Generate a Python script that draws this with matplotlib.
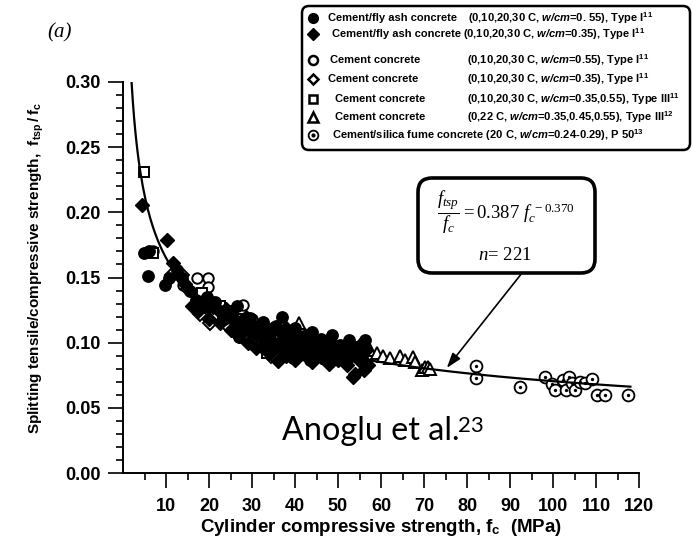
import numpy as np
import matplotlib
matplotlib.use('Agg')
import matplotlib.pyplot as plt
from matplotlib.patches import FancyBboxPatch
from matplotlib.lines import Line2D
from matplotlib.ticker import MultipleLocator, FixedLocator

plt.rcParams['font.family'] = 'Liberation Sans'
plt.rcParams['mathtext.fontset'] = 'custom'
plt.rcParams['mathtext.rm'] = 'Liberation Serif'
plt.rcParams['mathtext.it'] = 'Liberation Serif:style=italic'
plt.rcParams['mathtext.bf'] = 'Liberation Sans:weight=bold'
plt.rcParams['mathtext.sf'] = 'Liberation Sans:style=italic:weight=bold'

# ---------------- data (fc in MPa, ratio ftsp/fc) ----------------
fa55_pts = [(4.8,0.169),(6.0,0.170),(5.9,0.151),(9.8,0.144),(10.8,0.150),(12.5,0.156),(13.8,0.150),
            (15.5,0.140),(17.0,0.133),(18.5,0.127),(19.5,0.135),(21.5,0.131),(22.5,0.124),(23.5,0.118),
            (25.0,0.122),(26.5,0.128),(27.5,0.117),(28.5,0.110),(29.5,0.119),(30.5,0.113),(31.5,0.106),
            (32.5,0.116),(33.5,0.109),(34.5,0.101),(35.5,0.113),(36.5,0.097),(37.0,0.120),(38.0,0.106),
            (39.0,0.100),(40.0,0.111),(41.0,0.094),(42.0,0.105),(43.0,0.099),(44.0,0.108),(45.0,0.096),
            (46.0,0.103),(47.0,0.092),(48.0,0.100),(48.6,0.106),(49.5,0.095),(50.5,0.098),(51.5,0.091),
            (52.5,0.102),(53.5,0.093),(54.5,0.097),(55.5,0.090),(56.3,0.102),(39.5,0.088),(43.5,0.087),
            (33.0,0.095),(27.0,0.104),(37.5,0.092)]
fa35_pts = [(4.4,0.206),(10.2,0.179),(11.6,0.161),(13.0,0.152),(14.5,0.145),(16.0,0.128),(17.5,0.124),
            (18.5,0.132),(20.0,0.118),(21.0,0.127),(22.5,0.115),(23.5,0.121),(25.0,0.110),(26.0,0.116),
            (27.0,0.105),(28.0,0.112),(29.0,0.100),(30.0,0.108),(31.0,0.096),(32.0,0.104),(33.0,0.100),
            (34.0,0.092),(35.0,0.097),(36.0,0.086),(37.0,0.102),(38.0,0.090),(39.0,0.095),(40.0,0.087),
            (41.0,0.099),(42.0,0.091),(43.0,0.096),(44.0,0.085),(45.0,0.093),(46.0,0.089),(47.0,0.098),
            (48.0,0.084),(49.0,0.091),(50.0,0.087),(51.0,0.094),(52.0,0.083),(53.0,0.090),(54.0,0.076),
            (55.0,0.086),(56.0,0.079),(57.0,0.083),(24.0,0.126),(28.5,0.120),(32.5,0.113),(36.5,0.108),
            (40.5,0.107),(44.5,0.102),(48.5,0.100),(52.5,0.098),(56.5,0.094),(34.0,0.106),(38.0,0.111),
            (42.0,0.104),(46.0,0.101),(50.0,0.097),(54.0,0.095),(55.5,0.100),(53.5,0.074)]
c55_pts = [(7.0,0.170),(14.0,0.144),(17.2,0.150),(19.8,0.150),(19.8,0.143),(27.9,0.129),(12.0,0.153),
           (23.0,0.126),(30.0,0.118),(35.0,0.112),(41.5,0.108)]
c35_pts = [(11.5,0.152),(13.7,0.152),(15.0,0.141),(18.0,0.122),(20.2,0.124),(20.2,0.115),(22.0,0.118),
           (24.5,0.113),(26.0,0.108),(29.0,0.103),(31.5,0.098),(34.5,0.090),(36.0,0.087),(39.0,0.095),
           (42.5,0.092),(46.0,0.090),(50.0,0.088)]
t3_pts = [(4.9,0.231),(7.0,0.169),(18.4,0.138),(22.6,0.128),(25.5,0.124),(28.0,0.118),(31.0,0.108),
          (33.5,0.092),(38.0,0.104),(43.0,0.100),(47.0,0.097),(21.0,0.120)]
tri_pts = [(41.0,0.115),(52.0,0.097),(57.5,0.094),(59.0,0.092),(60.5,0.090),(62.0,0.088),(64.4,0.090),
           (65.5,0.087),(67.4,0.089),(68.0,0.085),(69.5,0.079),(70.2,0.081),(71.0,0.081),(71.5,0.080)]
sf_pts = [(82.0,0.082),(82.0,0.073),(92.3,0.066),(98.1,0.074),(99.7,0.068),(100.5,0.064),(102.3,0.071),
          (103.0,0.064),(103.7,0.074),(104.4,0.069),(105.0,0.064),(106.3,0.070),(107.4,0.069),
          (109.0,0.072),(110.2,0.060),(112.0,0.060),(117.4,0.060)]

fit_a, fit_b = 0.387, -0.370
fit_range = (2.0, 118.0)
n_points = 221
arrow_target = (75.3, 0.0806)

xticks = [10, 20, 30, 40, 50, 60, 70, 80, 90, 100, 110, 120]
yticks = [0.00, 0.05, 0.10, 0.15, 0.20, 0.25, 0.30]

legend_names = ["Cement/fly ash concrete", "Cement/fly ash concrete", "Cement concrete",
                "Cement concrete", "Cement concrete", "Cement concrete"]
legend_details = [r"(0,10,20,30 C, $\mathsf{w/cm}$=0. 55), Type I$^{\mathbf{11}}$",
                  r"(0,10,20,30 C, $\mathsf{w/cm}$=0.35), Type I$^{\mathbf{11}}$",
                  r"(0,10,20,30 C, $\mathsf{w/cm}$=0.55), Type I$^{\mathbf{11}}$",
                  r"(0,10,20,30 C, $\mathsf{w/cm}$=0.35), Type I$^{\mathbf{11}}$",
                  r"(0,10,20,30 C, $\mathsf{w/cm}$=0.35,0.55), Type III$^{\mathbf{11}}$",
                  r"(0,22 C, $\mathsf{w/cm}$=0.35,0.45,0.55), Type III$^{\mathbf{12}}$"]
legend_last = r"Cement/silica fume concrete (20 C, $\mathsf{w/cm}$=0.24-0.29), P 50$^{\mathbf{13}}$"

def xy(pts):
    a = np.array(pts)
    return a[:, 0], a[:, 1]

# ---------------- figure ----------------
W, H = 693, 542
fig = plt.figure(figsize=(W/100, H/100), dpi=100)
ax = fig.add_axes([123/W, 1-473/H, (639-123)/W, (473-82)/H])

k = dict(linestyle='none', markeredgecolor='black')
x, y = xy(c55_pts);  ax.plot(x, y, marker='o', ms=7.5, mfc='white', mew=1.4, zorder=3, **k)
x, y = xy(c35_pts);  ax.plot(x, y, marker='D', ms=7, mfc='white', mew=1.4, zorder=3, **k)
x, y = xy(t3_pts);   ax.plot(x, y, marker='s', ms=7, mfc='white', mew=1.4, zorder=3, **k)
x, y = xy(tri_pts);  ax.plot(x, y, marker='^', ms=8, mfc='white', mew=1.4, zorder=3, **k)
x, y = xy(fa55_pts); ax.plot(x, y, marker='o', ms=8.2, mfc='black', mew=1, zorder=4, **k)
x, y = xy(fa35_pts); ax.plot(x, y, marker='D', ms=7.6, mfc='black', mew=1, zorder=4, **k)
x, y = xy(sf_pts)
ax.plot(x, y, marker='o', ms=8.5, mfc='white', mew=1.3, zorder=3, **k)
ax.plot(x, y, marker='o', ms=2.4, mfc='black', mew=0, zorder=3, linestyle='none')

xf = np.linspace(fit_range[0], fit_range[1], 400)
ax.plot(xf, fit_a * xf ** fit_b, color='black', lw=1.6, zorder=5)

ax.set_xlim(0, 120)
ax.set_ylim(0, 0.30)
ax.xaxis.set_major_locator(FixedLocator(xticks))
ax.xaxis.set_minor_locator(FixedLocator([t - 5 for t in xticks]))
ax.yaxis.set_major_locator(FixedLocator(yticks))
ax.yaxis.set_minor_locator(MultipleLocator(0.01))
ax.set_xticklabels([str(t) for t in xticks])
ax.set_yticklabels([f"{t:.2f}" for t in yticks])
for s in ['top', 'right']:
    ax.spines[s].set_visible(False)
for s in ['left', 'bottom']:
    ax.spines[s].set_linewidth(1.4)
ax.tick_params(which='major', direction='out', length=10.8, width=1.2, labelsize=13, pad=5.5)
ax.tick_params(axis='x', which='major', pad=7)
ax.tick_params(which='minor', direction='out', length=5, width=1.2)
for lab in ax.get_xticklabels() + ax.get_yticklabels():
    lab.set_fontweight('bold')

ax.set_xlabel(r"Cylinder compressive strength, $\mathbf{f}_{\mathbf{c}}$  (MPa)", fontsize=13.5, fontweight='bold')
ax.set_ylabel(r"Splitting tensile/compressive strength,  $\mathbf{f}_{\mathbf{tsp}}\,\mathbf{/}\;\mathbf{f}_{\mathbf{c}}$",
              fontsize=11, fontweight='bold')
ax.xaxis.set_label_coords(0.5, -0.112)
ax.yaxis.set_label_coords(-0.150, 0.524)

# ---------------- panel label and source ----------------
pix = fig.dpi_scale_trans
def P(px, py):
    return (px/100, (H-py)/100)

fig.text(*P(60, 33), "(a)", transform=pix, family='Liberation Serif', style='italic',
         fontsize=15, ha='center', va='center')
fig.text(*P(282, 440), "Anoglu et al.", transform=pix, family='Lato', fontsize=23.3,
         ha='left', va='baseline')
fig.text(*P(458, 432), "23", transform=pix, family='Lato', fontsize=16, ha='left', va='baseline')

# ---------------- equation box with arrow ----------------
bx0, by0 = P(418, 273)
bx1, by1 = P(595, 178)
fig.add_artist(FancyBboxPatch((bx0, by0), bx1-bx0, by1-by0, boxstyle="round,pad=0,rounding_size=0.14",
                              transform=pix, fc='white', ec='black', lw=2.6, zorder=6))
fig.text(*P(506, 212), r"$\dfrac{f_{tsp}}{f_c} = 0.387\ f_c^{\ -0.370}$", transform=pix,
         fontsize=13.5, ha='center', va='center', zorder=7)
fig.text(*P(505, 255), r"$n$= " + str(n_points), transform=pix, family='Liberation Serif',
         fontsize=13.5, ha='center', va='center', zorder=7)
ax.annotate("", xy=arrow_target, xycoords='data', xytext=P(522, 273), textcoords=pix,
            arrowprops=dict(arrowstyle='-|>,head_length=0.9,head_width=0.3', color='black', lw=1.2,
                            shrinkA=0, shrinkB=0), zorder=6)

# ---------------- legend box ----------------
lx0, ly0 = P(302, 150)
lx1, ly1 = P(690, 6)
fig.add_artist(FancyBboxPatch((lx0, ly0), lx1-lx0, ly1-ly0, boxstyle="round,pad=0,rounding_size=0.07",
                              transform=pix, fc='white', ec='black', lw=1.8, zorder=6))
rows_y = [18, 34, 60, 79, 99, 117, 135]
name_x = [328, 332, 330, 328, 335, 335, 332]
det_x = [468, 463, 467, 467, 467, 467]
leg_markers = [dict(marker='o', mfc='black', ms=7), dict(marker='D', mfc='black', ms=6.5),
               dict(marker='o', mfc='white', ms=6.5, mew=1.8), dict(marker='D', mfc='white', ms=5.5, mew=1.8),
               dict(marker='s', mfc='white', ms=6, mew=1.8), dict(marker='^', mfc='white', ms=7, mew=1.8),
               dict(marker='o', mfc='white', ms=7, mew=1.3)]
for i, m in enumerate(leg_markers):
    mx, my = P(313, rows_y[i])
    fig.add_artist(Line2D([mx], [my], transform=pix, color='black', mec='black', linestyle='none',
                          zorder=7, **m))
mx, my = P(313, rows_y[6])
fig.add_artist(Line2D([mx], [my], transform=pix, marker='o', ms=2, mfc='black', mec='black',
                      linestyle='none', zorder=8))
for i in range(6):
    fig.text(*P(name_x[i], rows_y[i]), legend_names[i], transform=pix, fontsize=8, fontweight='bold',
             ha='left', va='center', zorder=7)
    fig.text(*P(det_x[i], rows_y[i]), legend_details[i], transform=pix, fontsize=8, fontweight='bold',
             ha='left', va='center', zorder=7)
fig.text(*P(name_x[6], rows_y[6]), legend_last, transform=pix, fontsize=8, fontweight='bold',
         ha='left', va='center', zorder=7)

fig.savefig("out.png", dpi=100)
